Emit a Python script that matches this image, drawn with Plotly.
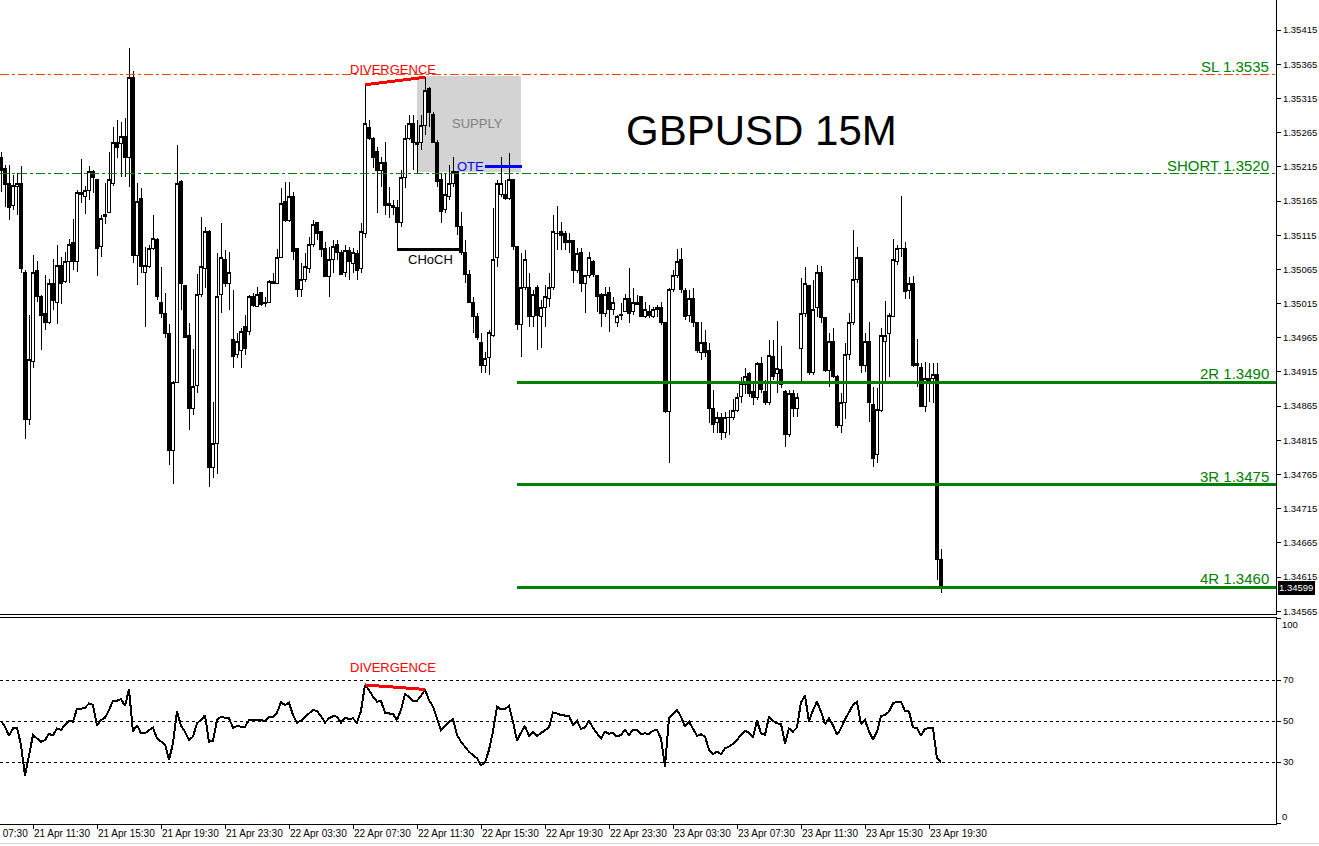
import pandas as pd
import plotly.graph_objects as go
from plotly.subplots import make_subplots

# ---------------- data ----------------
CHART_TITLE = "GBPUSD 15M"
FIRST_BAR = "2025-04-21 09:30"
BAR_MINUTES = 15

open_prices = [
    1.35229, 1.35212, 1.35190, 1.35158, 1.35186, 1.35191, 1.35061, 1.34846, 1.34930, 1.35064,
    1.35026, 1.35001, 1.34987, 1.35044, 1.35016, 1.35070, 1.35047, 1.35076, 1.35104, 1.35076,
    1.35178, 1.35172, 1.35180, 1.35208, 1.35196, 1.35099, 1.35146, 1.35148, 1.35191, 1.35250,
    1.35249, 1.35260, 1.35229, 1.35346, 1.35085, 1.35168, 1.35061, 1.35069, 1.35096, 1.35108,
    1.35017, 1.35000, 1.34971, 1.34800, 1.34899, 1.35193, 1.35042, 1.34968, 1.34861, 1.34895,
    1.35028, 1.35067, 1.35121, 1.34775, 1.34810, 1.35028, 1.35080, 1.35045, 1.34963, 1.34940,
    1.34947, 1.34981, 1.34974, 1.35026, 1.35010, 1.35031, 1.35016, 1.35017, 1.35048, 1.35045,
    1.35082, 1.35164, 1.35137, 1.35172, 1.35095, 1.35036, 1.35050, 1.35067, 1.35102, 1.35133,
    1.35121, 1.35095, 1.35054, 1.35079, 1.35101, 1.35089, 1.35060, 1.35092, 1.35074, 1.35088,
    1.35066, 1.35118, 1.35272, 1.35257, 1.35238, 1.35209, 1.35221, 1.35161, 1.35159, 1.35155,
    1.35134, 1.35199, 1.35257, 1.35279, 1.35251, 1.35250, 1.35276, 1.35329, 1.35292, 1.35251,
    1.35196, 1.35152, 1.35172, 1.35191, 1.35208, 1.35127, 1.35089, 1.35057, 1.35017, 1.34996,
    1.34958, 1.34925, 1.34936, 1.34969, 1.35082, 1.35174, 1.35174, 1.35168, 1.35196, 1.35098,
    1.34984, 1.35039, 1.35038, 1.34996, 1.35038, 1.34996, 1.35009, 1.35022, 1.35038, 1.35118,
    1.35121, 1.35117, 1.35104, 1.35107, 1.35064, 1.35089, 1.35045, 1.35056, 1.35077, 1.35056,
    1.35028, 1.35000, 1.35031, 1.35006, 1.34987, 1.34997, 1.35004, 1.35023, 1.35004, 1.35016,
    1.35025, 1.34996, 1.35004, 1.34996, 1.35009, 1.35009, 1.34987, 1.34857, 1.35036, 1.35056,
    1.35080, 1.35034, 1.34998, 1.35023, 1.34987, 1.34944, 1.34958, 1.34946, 1.34862, 1.34841,
    1.34848, 1.34826, 1.34848, 1.34849, 1.34858, 1.34879, 1.34896, 1.34912, 1.34886, 1.34877,
    1.34928, 1.34887, 1.34870, 1.34937, 1.34912, 1.34918, 1.34886, 1.34823, 1.34883, 1.34861,
    1.34949, 1.35000, 1.35041, 1.34914, 1.35009, 1.35060, 1.34994, 1.34917, 1.34960, 1.34908,
    1.34836, 1.34870, 1.34940, 1.34987, 1.35050, 1.35082, 1.34924, 1.34959, 1.34867, 1.34794,
    1.34858, 1.34959, 1.34971, 1.34996, 1.35077, 1.35096, 1.35095, 1.35034, 1.35045, 1.34928,
    1.34922, 1.34864, 1.34903, 1.34905, 1.34911, 1.34640,
]

high_prices = [
    1.35237, 1.35218, 1.35218, 1.35203, 1.35206, 1.35216, 1.35064, 1.34998, 1.35086, 1.35077,
    1.35028, 1.35057, 1.35051, 1.35080, 1.35101, 1.35083, 1.35091, 1.35110, 1.35139, 1.35181,
    1.35227, 1.35187, 1.35216, 1.35210, 1.35196, 1.35145, 1.35191, 1.35237, 1.35273, 1.35284,
    1.35281, 1.35287, 1.35389, 1.35355, 1.35191, 1.35184, 1.35098, 1.35101, 1.35145, 1.35111,
    1.35069, 1.35031, 1.34985, 1.34902, 1.35247, 1.35196, 1.35042, 1.34987, 1.34949, 1.35058,
    1.35142, 1.35127, 1.35123, 1.34871, 1.35089, 1.35133, 1.35094, 1.35091, 1.35035, 1.34972,
    1.34979, 1.34998, 1.35028, 1.35031, 1.35039, 1.35032, 1.35025, 1.35050, 1.35060, 1.35095,
    1.35184, 1.35193, 1.35193, 1.35178, 1.35095, 1.35074, 1.35089, 1.35112, 1.35137, 1.35134,
    1.35121, 1.35105, 1.35098, 1.35108, 1.35108, 1.35094, 1.35101, 1.35098, 1.35096, 1.35094,
    1.35133, 1.35335, 1.35284, 1.35259, 1.35244, 1.35229, 1.35251, 1.35186, 1.35167, 1.35167,
    1.35210, 1.35276, 1.35291, 1.35291, 1.35284, 1.35291, 1.35346, 1.35332, 1.35295, 1.35254,
    1.35206, 1.35206, 1.35218, 1.35229, 1.35208, 1.35149, 1.35108, 1.35064, 1.35025, 1.35001,
    1.34972, 1.34944, 1.34976, 1.35155, 1.35196, 1.35229, 1.35196, 1.35235, 1.35196, 1.35098,
    1.35089, 1.35094, 1.35060, 1.35035, 1.35042, 1.35020, 1.35042, 1.35060, 1.35145, 1.35158,
    1.35134, 1.35121, 1.35118, 1.35108, 1.35096, 1.35096, 1.35057, 1.35091, 1.35079, 1.35057,
    1.35031, 1.35039, 1.35039, 1.35025, 1.34998, 1.35016, 1.35029, 1.35067, 1.35038, 1.35028,
    1.35026, 1.35017, 1.35013, 1.35010, 1.35013, 1.35017, 1.34988, 1.35038, 1.35064, 1.35095,
    1.35096, 1.35038, 1.35035, 1.35038, 1.34988, 1.34988, 1.34976, 1.34958, 1.34889, 1.34857,
    1.34855, 1.34857, 1.34860, 1.34876, 1.34884, 1.34908, 1.34921, 1.34915, 1.34899, 1.34930,
    1.34937, 1.34903, 1.34962, 1.34962, 1.34990, 1.34953, 1.34889, 1.34889, 1.34889, 1.34884,
    1.35053, 1.35069, 1.35042, 1.35050, 1.35072, 1.35070, 1.34996, 1.34972, 1.34979, 1.34911,
    1.34884, 1.34958, 1.35001, 1.35123, 1.35098, 1.35083, 1.34972, 1.34988, 1.34893, 1.34892,
    1.34979, 1.35019, 1.35001, 1.35110, 1.35101, 1.35172, 1.35105, 1.35054, 1.35056, 1.34963,
    1.34928, 1.34930, 1.34928, 1.34928, 1.34928, 1.34656,
]

low_prices = [
    1.35178, 1.35156, 1.35137, 1.35152, 1.35145, 1.35060, 1.34817, 1.34838, 1.34921, 1.35017,
    1.34947, 1.34976, 1.34985, 1.35006, 1.34985, 1.35015, 1.35045, 1.35045, 1.35064, 1.35061,
    1.35162, 1.35146, 1.35167, 1.35177, 1.35056, 1.35083, 1.35132, 1.35148, 1.35187, 1.35228,
    1.35200, 1.35200, 1.35186, 1.35075, 1.35042, 1.35060, 1.34981, 1.35067, 1.35094, 1.35020,
    1.34994, 1.34965, 1.34779, 1.34751, 1.34899, 1.35006, 1.34965, 1.34830, 1.34852, 1.34884,
    1.35025, 1.35038, 1.34746, 1.34760, 1.34765, 1.35001, 1.35039, 1.35006, 1.34921, 1.34936,
    1.34921, 1.34940, 1.34969, 1.35010, 1.35010, 1.35012, 1.35010, 1.35016, 1.35044, 1.35044,
    1.35082, 1.35134, 1.35134, 1.35079, 1.35025, 1.35025, 1.35047, 1.35060, 1.35098, 1.35108,
    1.35083, 1.35054, 1.35025, 1.35060, 1.35079, 1.35057, 1.35054, 1.35050, 1.35060, 1.35050,
    1.35060, 1.35111, 1.35254, 1.35213, 1.35148, 1.35186, 1.35145, 1.35140, 1.35145, 1.35094,
    1.35127, 1.35184, 1.35254, 1.35210, 1.35206, 1.35240, 1.35262, 1.35273, 1.35250, 1.35186,
    1.35133, 1.35148, 1.35167, 1.35186, 1.35115, 1.35086, 1.35045, 1.35016, 1.34972, 1.34962,
    1.34914, 1.34914, 1.34911, 1.34966, 1.35069, 1.35171, 1.35167, 1.35167, 1.35094, 1.34976,
    1.34937, 1.35035, 1.34981, 1.34981, 1.34947, 1.34950, 1.34981, 1.35010, 1.35035, 1.35094,
    1.35094, 1.35094, 1.35089, 1.35045, 1.35060, 1.35032, 1.35001, 1.35053, 1.35054, 1.35003,
    1.34981, 1.34996, 1.34974, 1.34998, 1.34981, 1.34991, 1.35003, 1.34987, 1.34999, 1.35013,
    1.34996, 1.34994, 1.34994, 1.34994, 1.34996, 1.34984, 1.34855, 1.34782, 1.35032, 1.35053,
    1.35031, 1.34991, 1.34988, 1.34981, 1.34943, 1.34933, 1.34937, 1.34841, 1.34826, 1.34826,
    1.34816, 1.34819, 1.34823, 1.34845, 1.34857, 1.34870, 1.34882, 1.34879, 1.34867, 1.34874,
    1.34884, 1.34867, 1.34867, 1.34903, 1.34884, 1.34892, 1.34805, 1.34820, 1.34849, 1.34849,
    1.34901, 1.34996, 1.34911, 1.34911, 1.34996, 1.34987, 1.34915, 1.34893, 1.34906, 1.34833,
    1.34826, 1.34846, 1.34933, 1.34984, 1.35045, 1.34914, 1.34915, 1.34842, 1.34776, 1.34782,
    1.34857, 1.34899, 1.34908, 1.34996, 1.35072, 1.35083, 1.35022, 1.35022, 1.34922, 1.34893,
    1.34863, 1.34857, 1.34871, 1.34870, 1.34611, 1.34592,
]

close_prices = [
    1.35210, 1.35189, 1.35156, 1.35187, 1.35191, 1.35066, 1.34845, 1.34933, 1.35061, 1.35025,
    1.34997, 1.34988, 1.35044, 1.35020, 1.35070, 1.35045, 1.35077, 1.35101, 1.35076, 1.35177,
    1.35175, 1.35180, 1.35208, 1.35200, 1.35096, 1.35139, 1.35143, 1.35197, 1.35250, 1.35243,
    1.35260, 1.35229, 1.35346, 1.35085, 1.35164, 1.35069, 1.35070, 1.35096, 1.35110, 1.35026,
    1.35000, 1.34971, 1.34800, 1.34899, 1.35191, 1.35045, 1.34966, 1.34862, 1.34893, 1.35028,
    1.35069, 1.35120, 1.34775, 1.34810, 1.35025, 1.35083, 1.35045, 1.35060, 1.34937, 1.34960,
    1.34974, 1.34949, 1.35026, 1.35012, 1.35028, 1.35013, 1.35015, 1.35047, 1.35045, 1.35083,
    1.35162, 1.35137, 1.35172, 1.35091, 1.35036, 1.35050, 1.35069, 1.35101, 1.35130, 1.35118,
    1.35094, 1.35054, 1.35079, 1.35099, 1.35089, 1.35058, 1.35092, 1.35076, 1.35089, 1.35064,
    1.35121, 1.35279, 1.35257, 1.35229, 1.35210, 1.35221, 1.35159, 1.35158, 1.35155, 1.35134,
    1.35199, 1.35257, 1.35279, 1.35251, 1.35247, 1.35276, 1.35327, 1.35294, 1.35251, 1.35193,
    1.35149, 1.35174, 1.35191, 1.35208, 1.35127, 1.35089, 1.35057, 1.35017, 1.34996, 1.34966,
    1.34925, 1.34934, 1.34972, 1.35079, 1.35191, 1.35191, 1.35168, 1.35196, 1.35098, 1.34984,
    1.35039, 1.35079, 1.34996, 1.35028, 1.34997, 1.35009, 1.35025, 1.35039, 1.35121, 1.35117,
    1.35114, 1.35104, 1.35107, 1.35064, 1.35088, 1.35045, 1.35056, 1.35082, 1.35057, 1.35026,
    1.35001, 1.35028, 1.35006, 1.35017, 1.34996, 1.34999, 1.35022, 1.35001, 1.35017, 1.35013,
    1.34996, 1.35006, 1.34997, 1.35006, 1.35007, 1.34987, 1.34857, 1.35036, 1.35056, 1.35076,
    1.35035, 1.34996, 1.35023, 1.34987, 1.34946, 1.34958, 1.34944, 1.34861, 1.34838, 1.34848,
    1.34826, 1.34848, 1.34849, 1.34858, 1.34877, 1.34898, 1.34908, 1.34884, 1.34877, 1.34928,
    1.34889, 1.34870, 1.34939, 1.34908, 1.34920, 1.34896, 1.34823, 1.34884, 1.34861, 1.34877,
    1.35000, 1.35044, 1.34914, 1.35007, 1.35060, 1.34994, 1.34917, 1.34959, 1.34908, 1.34836,
    1.34870, 1.34940, 1.34987, 1.35050, 1.35083, 1.34925, 1.34959, 1.34870, 1.34789, 1.34860,
    1.34968, 1.34969, 1.34998, 1.35079, 1.35095, 1.35095, 1.35032, 1.35044, 1.34925, 1.34924,
    1.34865, 1.34905, 1.34905, 1.34911, 1.34640, 1.34599,
]

rsi_values = [
    50.0, 47.2, 42.7, 46.4, 46.7, 38.3, 23.2, 33.9, 43.2, 41.5,
    39.9, 40.7, 43.7, 43.0, 46.4, 45.6, 48.2, 50.0, 49.7, 56.0,
    56.0, 56.5, 58.6, 57.8, 47.6, 50.5, 51.6, 55.4, 59.9, 59.9,
    60.7, 57.3, 65.4, 44.8, 48.0, 44.0, 44.0, 45.6, 46.7, 41.5,
    40.2, 38.6, 31.0, 39.1, 54.6, 47.6, 44.8, 40.7, 42.4, 48.9,
    50.5, 52.8, 39.8, 40.4, 50.5, 52.1, 51.6, 51.3, 46.7, 47.6,
    47.2, 47.2, 50.5, 50.5, 50.2, 50.2, 50.2, 51.8, 52.1, 54.1,
    59.1, 57.8, 58.9, 52.9, 49.2, 50.2, 51.8, 53.7, 55.4, 54.9,
    52.4, 49.2, 51.3, 52.4, 52.1, 49.2, 51.6, 51.0, 51.3, 49.2,
    54.9, 67.6, 65.1, 61.9, 59.4, 59.8, 54.1, 53.7, 53.4, 50.5,
    55.4, 63.0, 61.9, 59.8, 59.9, 62.2, 65.4, 60.2, 57.0, 51.3,
    45.6, 47.6, 49.7, 50.8, 43.2, 39.9, 37.5, 35.0, 33.4, 31.8,
    28.5, 29.7, 35.9, 44.8, 57.0, 55.7, 55.7, 57.5, 49.7, 40.4,
    44.3, 47.6, 42.7, 44.8, 42.7, 44.0, 45.3, 46.9, 54.1, 53.7,
    52.9, 52.6, 52.4, 48.0, 50.2, 46.1, 46.9, 50.2, 46.7, 44.0,
    41.5, 44.8, 43.7, 44.3, 42.4, 43.2, 45.6, 43.2, 45.6, 45.6,
    43.5, 44.0, 43.7, 45.3, 45.6, 41.5, 27.7, 51.6, 53.7, 55.4,
    52.1, 47.2, 49.7, 46.4, 42.8, 43.5, 42.4, 35.9, 33.9, 35.0,
    33.9, 36.7, 37.5, 38.8, 40.7, 43.2, 45.3, 44.3, 42.0, 50.2,
    44.0, 43.2, 52.1, 50.0, 48.9, 48.5, 39.1, 46.4, 44.8, 46.9,
    59.1, 62.4, 49.7, 55.4, 59.4, 54.6, 48.5, 51.3, 48.0, 43.2,
    46.4, 50.8, 54.6, 57.8, 59.4, 48.5, 50.5, 44.8, 41.1, 44.8,
    52.4, 52.9, 54.6, 58.6, 59.4, 59.4, 54.9, 54.6, 46.9, 46.7,
    42.7, 46.3, 46.4, 46.4, 31.8, 29.8,
]

time_tick_labels = [
    "21 Apr 11:30", "21 Apr 15:30", "21 Apr 19:30", "21 Apr 23:30",
    "22 Apr 03:30", "22 Apr 07:30", "22 Apr 11:30", "22 Apr 15:30",
    "22 Apr 19:30", "22 Apr 23:30", "23 Apr 03:30", "23 Apr 07:30",
    "23 Apr 11:30", "23 Apr 15:30", "23 Apr 19:30",
]
clipped_left_label = "21 Apr 07:30"   # label whose tick lies just left of the visible area
TICK_YEAR = "2025"
price_tick_first = 1.34565
price_tick_last = 1.35415
price_tick_step = 0.0005

level_texts = ["SL 1.3535", "SHORT 1.3520", "2R 1.3490", "3R 1.3475", "4R 1.3460"]
level_prices = [1.35350, 1.35205, 1.34900, 1.34750, 1.34600]

rsi_level_values = [30, 50, 70]

# annotated structures (bar indices / prices)
supply_bars = [104, 130]
supply_prices = [1.35208, 1.35348]
divergence_bars = [91, 106]
choch_bars = [99, 115]
ote_bars = [121, 130.25]
ote_price = 1.35215
target_start_bar = 129

# ---------------- helpers ----------------
t0 = pd.Timestamp(FIRST_BAR)


def bar_time(i):
    return t0 + pd.Timedelta(minutes=BAR_MINUTES * i)


def label_time(lab):
    return pd.to_datetime(f"{TICK_YEAR} {lab}", format="%Y %d %b %H:%M")


times = [bar_time(i) for i in range(len(close_prices))]
tickvals = [label_time(lab) for lab in time_tick_labels]

X_BAR_RANGE = [-0.25, 318.75]
X_RANGE = [bar_time(X_BAR_RANGE[0]), bar_time(X_BAR_RANGE[1])]
PRICE_RANGE = [1.34561, 1.35459]
RSI_RANGE = [-0.24, 100.25]

FONT = "Liberation Sans, Arial, sans-serif"
GREEN = "#008000"

fig = make_subplots(rows=2, cols=1, shared_xaxes=True, vertical_spacing=0)

fig.add_trace(
    go.Candlestick(
        x=times, open=open_prices, high=high_prices, low=low_prices, close=close_prices,
        increasing=dict(line=dict(color="black", width=1), fillcolor="white"),
        decreasing=dict(line=dict(color="black", width=1), fillcolor="black"),
        whiskerwidth=0, hoverinfo="skip", showlegend=False,
    ),
    row=1, col=1,
)

fig.add_trace(
    go.Scatter(x=times, y=rsi_values, mode="lines", line=dict(color="black", width=2),
               hoverinfo="skip", showlegend=False),
    row=2, col=1,
)

shapes = []
shapes.append(dict(type="rect", xref="x", yref="y", layer="below",
                   x0=bar_time(supply_bars[0]), x1=bar_time(supply_bars[1]),
                   y0=supply_prices[0], y1=supply_prices[1],
                   fillcolor="#D3D3D3", line=dict(width=0)))
shapes.append(dict(type="line", xref="paper", yref="y", x0=0, x1=1,
                   y0=level_prices[0], y1=level_prices[0],
                   line=dict(color="#FF4500", width=1, dash="9px,3px,3px,3px")))
shapes.append(dict(type="line", xref="paper", yref="y", x0=0, x1=1,
                   y0=level_prices[1], y1=level_prices[1],
                   line=dict(color=GREEN, width=1, dash="9px,3px,3px,3px")))
for p in level_prices[2:]:
    shapes.append(dict(type="line", xref="x", yref="y",
                       x0=bar_time(target_start_bar), x1=X_RANGE[1], y0=p, y1=p,
                       line=dict(color=GREEN, width=3)))
d0, d1 = divergence_bars
shapes.append(dict(type="line", xref="x", yref="y",
                   x0=bar_time(d0), x1=bar_time(d1),
                   y0=high_prices[d0], y1=high_prices[d1],
                   line=dict(color="#FF0000", width=3)))
c0, c1 = choch_bars
shapes.append(dict(type="line", xref="x", yref="y",
                   x0=bar_time(c0), x1=bar_time(c1),
                   y0=low_prices[c0], y1=low_prices[c0],
                   line=dict(color="black", width=3)))
shapes.append(dict(type="line", xref="x", yref="y",
                   x0=bar_time(ote_bars[0]), x1=bar_time(ote_bars[1]),
                   y0=ote_price, y1=ote_price,
                   line=dict(color="#0000FF", width=3)))
for v in rsi_level_values:
    shapes.append(dict(type="line", xref="paper", yref="y2", x0=0, x1=1, y0=v, y1=v,
                       layer="below", line=dict(color="black", width=1, dash="3px,3px")))
shapes.append(dict(type="line", xref="x2", yref="y2",
                   x0=bar_time(d0), x1=bar_time(d1),
                   y0=rsi_values[d0], y1=rsi_values[d1],
                   line=dict(color="#FF0000", width=3)))
shapes.append(dict(type="line", xref="paper", yref="paper", x0=0, x1=1.034,
                   y0=-0.0231, y1=-0.0231, line=dict(color="#D8D8D8", width=1)))

annotations = []
for txt, p in zip(level_texts, level_prices):
    annotations.append(dict(text=txt, xref="paper", yref="y", x=0.9953, y=p,
                            xanchor="right", yanchor="bottom", showarrow=False,
                            borderpad=0, yshift=-1,
                            font=dict(family=FONT, size=15, color=GREEN)))
annotations.append(dict(text=CHART_TITLE, xref="paper", yref="paper", x=0.5964, y=0.8422,
                        xanchor="center", yanchor="middle", showarrow=False,
                        font=dict(family=FONT, size=42, color="black")))
annotations.append(dict(text="DIVERGENCE", xref="x", yref="y", x=bar_time(98), y=1.35358,
                        showarrow=False, font=dict(family=FONT, size=13, color="#FF0000")))
annotations.append(dict(text="SUPPLY", xref="x", yref="y", x=bar_time(119), y=1.35278,
                        showarrow=False, font=dict(family=FONT, size=13, color="#808080")))
annotations.append(dict(text="OTE", xref="x", yref="y", x=bar_time(ote_bars[0]), y=ote_price,
                        xanchor="right", showarrow=False, borderpad=0,
                        font=dict(family=FONT, size=13, color="#0000FF")))
annotations.append(dict(text="CHoCH", xref="x", yref="y", x=bar_time(107.25), y=1.35080,
                        showarrow=False, font=dict(family=FONT, size=13, color="black")))
annotations.append(dict(text="DIVERGENCE", xref="x2", yref="y2", x=bar_time(98), y=76.3,
                        showarrow=False, font=dict(family=FONT, size=13, color="#FF0000")))
annotations.append(dict(text=f"{close_prices[-1]:.5f}", xref="paper", yref="y", x=1,
                        y=close_prices[-1], xanchor="left", yanchor="middle", xshift=1,
                        showarrow=False, bgcolor="black", borderpad=1,
                        font=dict(family=FONT, size=9.5, color="white")))
annotations.append(dict(text="100", xref="paper", yref="y2", x=1, y=97.3, xanchor="left",
                        xshift=5, showarrow=False, borderpad=0,
                        font=dict(family=FONT, size=9.5, color="black")))
annotations.append(dict(text="0", xref="paper", yref="y2", x=1, y=3.2, xanchor="left",
                        xshift=5, showarrow=False, borderpad=0,
                        font=dict(family=FONT, size=9.5, color="black")))
# time label whose tick sits just left of the visible area (cut by the left edge)
left_label_bars = (label_time(clipped_left_label) - t0) / pd.Timedelta(minutes=BAR_MINUTES)
left_label_paper = (left_label_bars - X_BAR_RANGE[0]) / (X_BAR_RANGE[1] - X_BAR_RANGE[0])
annotations.append(dict(text=clipped_left_label, xref="paper", yref="paper",
                        x=left_label_paper, y=-0.0036, xanchor="left",
                        yanchor="top", xshift=1, showarrow=False, borderpad=0,
                        font=dict(family=FONT, size=10, color="black")))

n_ticks = int(round((price_tick_last - price_tick_first) / price_tick_step)) + 1
price_tickvals = [round(price_tick_first + i * price_tick_step, 5) for i in range(n_ticks)]

fig.update_layout(
    template="none",
    width=1319, height=846,
    margin=dict(l=0, r=43, t=0, b=22),
    paper_bgcolor="white", plot_bgcolor="white",
    showlegend=False, hovermode=False,
    boxgap=0.25, boxgroupgap=0,
    font=dict(family=FONT, size=10, color="black"),
    shapes=shapes, annotations=annotations,
    xaxis=dict(domain=[0, 1], range=X_RANGE, rangeslider=dict(visible=False),
               showgrid=False, zeroline=False, showline=True, linecolor="black", linewidth=1,
               showticklabels=False, ticks="", automargin=False),
    xaxis2=dict(domain=[0, 1], range=X_RANGE, showgrid=False, zeroline=False,
                showline=True, mirror=True, linecolor="black", linewidth=1,
                ticks="outside", ticklen=4, tickcolor="black",
                tickvals=tickvals, ticktext=time_tick_labels, tickangle=0,
                ticklabelposition="outside right",
                tickfont=dict(family=FONT, size=10, color="black"), automargin=False),
    yaxis=dict(domain=[0.2549, 1], range=PRICE_RANGE, side="right",
               showgrid=False, zeroline=False, showline=True, linecolor="black", linewidth=1,
               ticks="outside", ticklen=4, tickcolor="black",
               tickvals=price_tickvals, ticktext=[f"{v:.5f}" for v in price_tickvals],
               tickfont=dict(family=FONT, size=9.5, color="black"), automargin=False),
    yaxis2=dict(domain=[0, 0.25], range=RSI_RANGE, side="right",
                showgrid=False, zeroline=False, showline=True, linecolor="black", linewidth=1,
                ticks="outside", ticklen=4, tickcolor="black",
                tickvals=[0, 30, 50, 70, 100], ticktext=["", "30", "50", "70", ""],
                tickfont=dict(family=FONT, size=9.5, color="black"), automargin=False),
)

POST_JS = (
    "document.body.style.margin='0';"
    "document.body.style.overflow='hidden';"
    "document.querySelectorAll('.main-svg').forEach(function(s){s.style.shapeRendering='crispEdges';});"
)

fig.write_html("out.html", post_script=POST_JS, config={"displayModeBar": False})
